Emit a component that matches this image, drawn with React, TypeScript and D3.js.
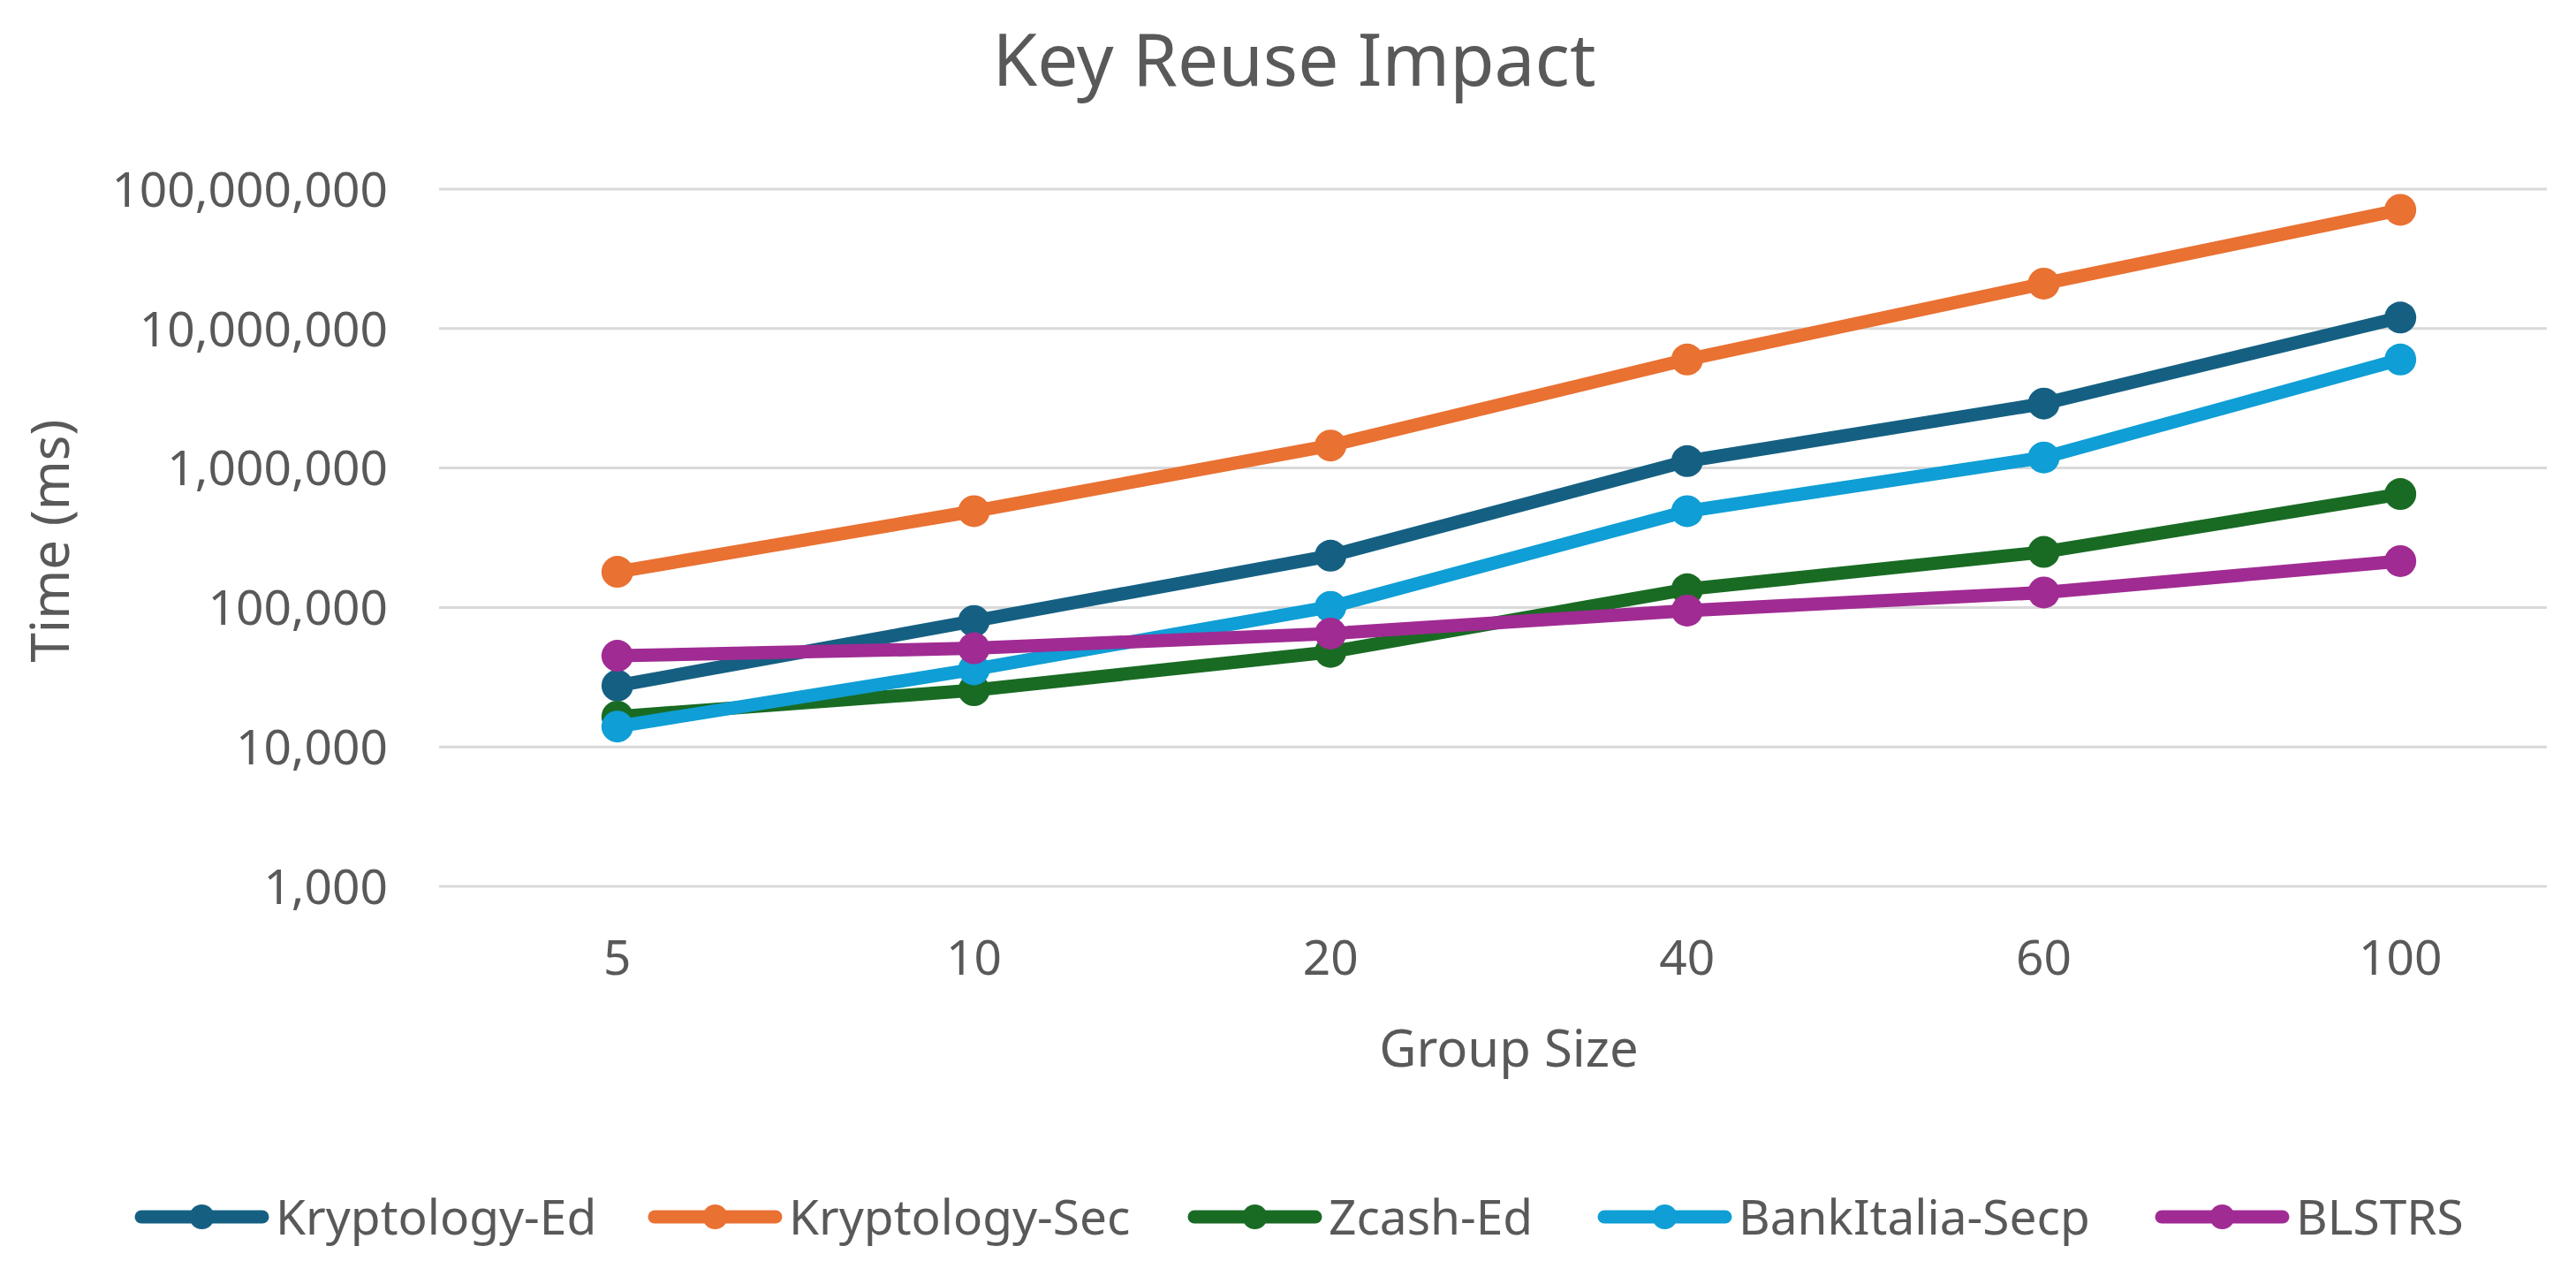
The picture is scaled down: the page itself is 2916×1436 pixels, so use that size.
import React from 'react';
import * as d3 from 'd3';

const groupSizes = ['5', '10', '20', '40', '60', '100'];
const kryptologyEd = [27500, 80000, 235000, 1120000, 2900000, 12000000];
const kryptologySec = [180000, 490000, 1450000, 6000000, 21000000, 71000000];
const zcashEd = [16500, 25500, 48000, 135000, 250000, 650000];
const bankItaliaSecp = [14000, 36000, 101000, 490000, 1190000, 6000000];
const blstrs = [45000, 51000, 65000, 95000, 128000, 215000];
const yTicks = [1000, 10000, 100000, 1000000, 10000000, 100000000];

const seriesNames = ['Kryptology-Ed', 'Kryptology-Sec', 'Zcash-Ed', 'BankItalia-Secp', 'BLSTRS'];
const seriesValues = [kryptologyEd, kryptologySec, zcashEd, bankItaliaSecp, blstrs];
const colors = ['#156082', '#E97132', '#196B24', '#0F9ED5', '#A02B93'];

const W = 2916;
const H = 1436;
const textColor = '#595959';
const font = '"Noto Sans", "Open Sans", sans-serif';

const App: React.FC = () => {
  const plotLeft = 497;
  const plotRight = 2919;
  const gridRight = 2883;

  const x = d3.scalePoint<string>().domain(groupSizes).range([plotLeft, plotRight]).padding(0.5);
  const y = d3.scaleLog().domain([1000, 100000000]).range([1003, 214]);
  const fmt = d3.format(',');

  const line = d3.line<number>()
    .x((_, i) => x(groupSizes[i]) || 0)
    .y(d => y(d));

  // legend layout (item starts)
  const legendX = [153, 734, 1345, 1809, 2440];
  const legendY = 1377;
  const legendLineW = 151;

  return (
    <div style={{ position: 'absolute', left: 0, top: 0 }}>
      <svg width={W} height={H} style={{ display: 'block', background: '#fff' }} fontFamily={font}>
        <text x={1465} y={97} textAnchor="middle" fontSize={82} fill={textColor}>Key Reuse Impact</text>

        {/* gridlines + y labels */}
        {yTicks.map(t => (
          <g key={t}>
            <line x1={plotLeft} x2={gridRight} y1={y(t)} y2={y(t)} stroke="#D9D9D9" strokeWidth={3} />
            <text x={439} y={y(t)} dy="0.36em" textAnchor="end" fontSize={55} fill={textColor}>{fmt(t)}</text>
          </g>
        ))}

        {/* x labels */}
        {groupSizes.map(g => (
          <text key={g} x={x(g)} y={1103} textAnchor="middle" fontSize={55} fill={textColor}>{g}</text>
        ))}

        <text x={1708} y={1207} textAnchor="middle" fontSize={58} fill={textColor}>Group Size</text>
        <text transform="translate(78,612) rotate(-90)" textAnchor="middle" fontSize={60} fill={textColor}>Time (ms)</text>

        {/* series */}
        {seriesValues.map((vals, si) => (
          <g key={seriesNames[si]}>
            <path d={line(vals) || ''} fill="none" stroke={colors[si]} strokeWidth={15} strokeLinejoin="round" />
            {vals.map((v, i) => (
              <circle key={i} cx={x(groupSizes[i])} cy={y(v)} r={18} fill={colors[si]} />
            ))}
          </g>
        ))}

        {/* legend */}
        {seriesNames.map((name, si) => (
          <g key={name} transform={`translate(${legendX[si]},${legendY})`}>
            <line x1={7} x2={legendLineW - 7} y1={0} y2={0} stroke={colors[si]} strokeWidth={15} strokeLinecap="round" />
            <circle cx={legendLineW / 2} cy={0} r={14} fill={colors[si]} />
            <text x={legendLineW + 8} y={0} dy="0.36em" fontSize={55} fill={textColor}>{name}</text>
          </g>
        ))}
      </svg>
    </div>
  );
};

export default App;
